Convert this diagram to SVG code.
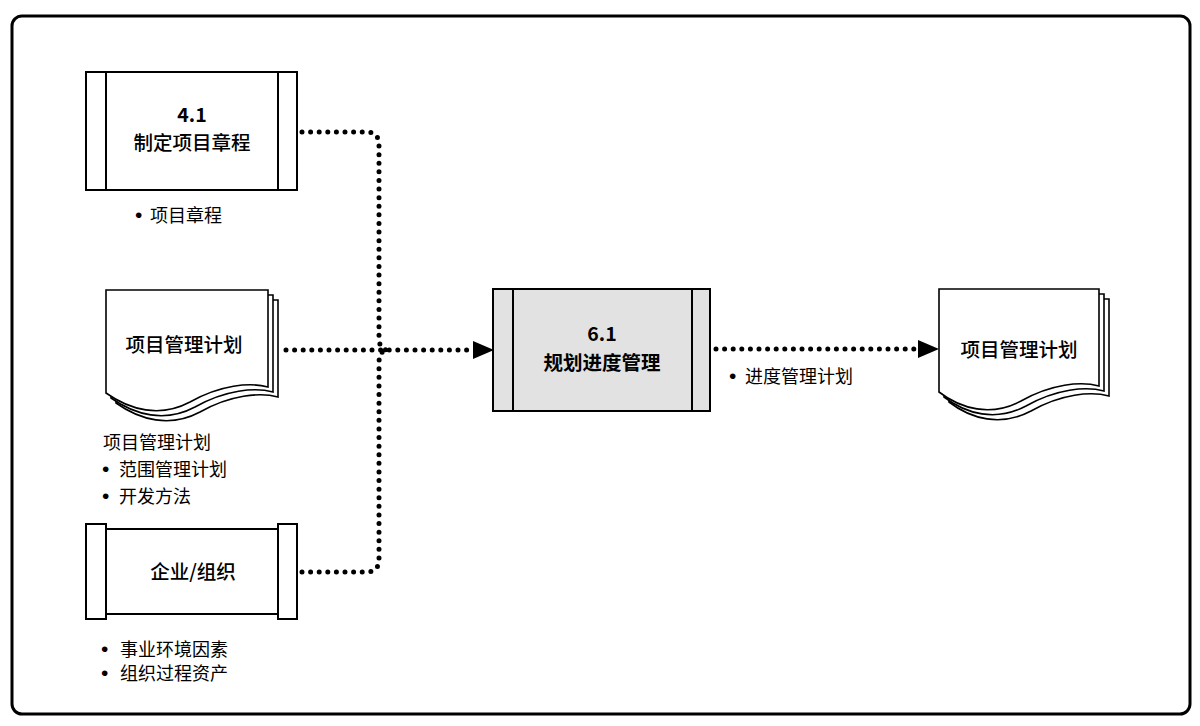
<svg xmlns="http://www.w3.org/2000/svg" width="1200" height="726" viewBox="0 0 1200 726">
<defs>
<style>
.frame{fill:#fff;stroke:#000;stroke-width:3}
.box{fill:#fff;stroke:#000;stroke-width:2}
.gray{fill:#e2e2e2;stroke:#000;stroke-width:2}
.ln{stroke:#000;stroke-width:2;fill:none}
.page{fill:#fff;stroke:#000;stroke-width:1.6}
.dot{fill:none;stroke:#000;stroke-width:5;stroke-linecap:round;stroke-dasharray:0 8.6}
.t{font-family:"Noto Sans CJK SC","Noto Sans",sans-serif;fill:#000;text-anchor:middle}
.title{font-size:19.5px;font-weight:500}
.bold{font-size:19.5px;font-weight:700}
.lbl{font-family:"Noto Sans CJK SC","Noto Sans",sans-serif;font-size:18px;fill:#000}
.bul{font-family:"Liberation Sans",sans-serif;font-size:21px}
</style>
</defs>
<rect class="frame" x="12" y="16" width="1178" height="698" rx="10"/>

<g id="connectors">
<path class="dot" d="M302,132 H366 Q379,132 379,145 V337 Q379,350 388,350"/>
<path class="dot" d="M286,350 H473"/>
<path class="dot" d="M302,572 H366 Q379,572 379,559 V363 Q379,350 388,350"/>
<path class="dot" d="M716,349 H917"/>
<path d="M473,341 L494,350 L473,359 Z" fill="#000"/>
<path d="M918,340 L939,349 L918,358 Z" fill="#000"/>
</g>

<g id="n41">
<rect class="box" x="86" y="72" width="211" height="118"/>
<line class="ln" x1="106" y1="72" x2="106" y2="190"/>
<line class="ln" x1="278" y1="72" x2="278" y2="190"/>
<text class="t bold" x="192" y="122">4.1</text>
<text class="t title" x="192" y="150">制定项目章程</text>
<text class="lbl" x="135" y="222"><tspan class="bul">•</tspan><tspan x="150">项目章程</tspan></text>
</g>

<g id="pmp_in">
<path class="page" d="M116,300 H278 V397 C260,392 230,395 200,412 C170,428 140,420 116,403 Z"/>
<path class="page" d="M111,295 H273 V392 C255,387 225,390 195,407 C165,423 135,415 111,398 Z"/>
<path class="page" d="M106,290 H268 V387 C250,382 220,385 190,402 C160,418 130,410 106,393 Z"/>
<text class="t title" x="184" y="352">项目管理计划</text>
<text class="lbl" x="103" y="449">项目管理计划</text>
<text class="lbl" x="102" y="476"><tspan class="bul">•</tspan><tspan x="119">范围管理计划</tspan></text>
<text class="lbl" x="102" y="503"><tspan class="bul">•</tspan><tspan x="119">开发方法</tspan></text>
</g>

<g id="org">
<rect class="box" x="106" y="529" width="172" height="85"/>
<rect class="box" x="86" y="524" width="20" height="95"/>
<rect class="box" x="278" y="524" width="19" height="95"/>
<text class="t title" x="193" y="579">企业/组织</text>
<text class="lbl" x="101" y="656"><tspan class="bul">•</tspan><tspan x="120">事业环境因素</tspan></text>
<text class="lbl" x="101" y="680"><tspan class="bul">•</tspan><tspan x="120">组织过程资产</tspan></text>
</g>

<g id="n61">
<rect class="gray" x="493" y="289" width="217" height="122"/>
<line class="ln" x1="513" y1="289" x2="513" y2="411"/>
<line class="ln" x1="692" y1="289" x2="692" y2="411"/>
<text class="t bold" x="602" y="341">6.1</text>
<text class="t bold" x="602" y="370">规划进度管理</text>
<text class="lbl" x="729" y="383"><tspan class="bul">•</tspan><tspan x="745">进度管理计划</tspan></text>
</g>

<g id="pmp_out">
<path class="page" d="M949,299 H1109 V396 C1091,391 1061,394 1031,411 C1001,427 971,419 949,402 Z"/>
<path class="page" d="M944,294 H1104 V391 C1086,386 1056,389 1026,406 C996,422 966,414 944,397 Z"/>
<path class="page" d="M939,289 H1099 V386 C1081,381 1051,384 1021,401 C991,417 961,409 939,392 Z"/>
<text class="t title" x="1019" y="357">项目管理计划</text>
</g>
</svg>
